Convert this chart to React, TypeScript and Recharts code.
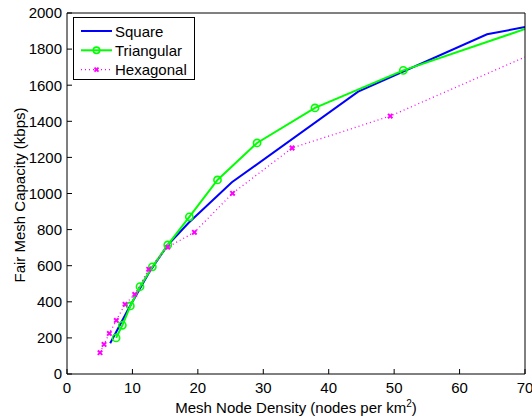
import React from 'react';
import { LineChart, Line, XAxis, YAxis } from 'recharts';

const squareX = [6.6, 9.4, 12.5, 15.4, 18.6, 25.2, 44.5, 64.2, 70];
const squareY = [170, 362, 560, 715, 838, 1062, 1564, 1882, 1922];

const triX = [7.5, 8.46, 9.68, 11.16, 13.05, 15.4, 18.7, 23.0, 29.05, 37.9, 51.4, 70];
const triY = [200, 270, 377, 484, 594, 715, 871, 1075, 1280, 1474, 1682, 1911];

const hexX = [5.05, 5.66, 6.47, 7.54, 8.87, 10.35, 12.49, 15.4, 19.47, 25.3, 34.4, 49.4, 70];
const hexY = [118, 164, 225, 297, 386, 441, 580, 703, 785, 1001, 1252, 1429, 1756];

const xTicks = [0, 10, 20, 30, 40, 50, 60, 70];
const yTicks = [0, 200, 400, 600, 800, 1000, 1200, 1400, 1600, 1800, 2000];

const seriesNames = ['Square', 'Triangular', 'Hexagonal'];
const colors = { square: '#0000ff', tri: '#00ff00', hex: '#ff00ff' };

const sq = squareX.map((x, i) => ({ x, y: squareY[i] }));
const tri = triX.map((x, i) => ({ x, y: triY[i] }));
const hex = hexX.map((x, i) => ({ x, y: hexY[i] }));

const FONT = '"Liberation Sans", Arial, Helvetica, sans-serif';

const CircleDot = (props: any) => {
  const { cx, cy, index } = props;
  if (index === tri.length - 1 || cx == null) return <g key={`c${index}`} />;
  return <circle key={`c${index}`} cx={cx} cy={cy} r={3.6} fill="none" stroke={colors.tri} strokeWidth={1.6} />;
};

const XDot = (props: any) => {
  const { cx, cy, index } = props;
  if (index === hex.length - 1 || cx == null) return <g key={`x${index}`} />;
  const s = 2.2;
  return (
    <g key={`x${index}`}>
      <line x1={cx - s} y1={cy - s} x2={cx + s} y2={cy + s} stroke={colors.hex} strokeWidth={2} />
      <line x1={cx - s} y1={cy + s} x2={cx + s} y2={cy - s} stroke={colors.hex} strokeWidth={2} />
    </g>
  );
};

const tickStyle = { fontSize: 15, fill: '#000', fontFamily: FONT };

export default function App() {
  return (
    <div style={{ position: 'absolute', left: 0, top: 0, width: 532, height: 418, background: '#fff', fontFamily: FONT }}>
      <LineChart width={532} height={418} margin={{ top: 0, right: 0, bottom: 0, left: 0 }}>
        <XAxis
          xAxisId="b"
          type="number"
          dataKey="x"
          domain={[0, 70]}
          ticks={xTicks}
          allowDataOverflow
          height={44}
          tickSize={-5}
          tickMargin={13}
          tick={tickStyle}
          stroke="#000"
          tickLine={{ stroke: '#000' }}
          axisLine={{ stroke: '#000' }}
          interval={0}
          label={() => (
            <text x={296} y={413} textAnchor="middle" fontSize={15} fontFamily={FONT} fill="#000">
              Mesh Node Density (nodes per km
              <tspan fontSize={10} dy={-6}>2</tspan>
              <tspan dy={6}>)</tspan>
            </text>
          )}
        />
        <XAxis
          xAxisId="t"
          orientation="top"
          type="number"
          domain={[0, 70]}
          ticks={xTicks}
          allowDataOverflow
          height={13}
          tickSize={-5}
          tick={false}
          stroke="#000"
          interval={0}
        />
        <YAxis
          yAxisId="l"
          type="number"
          domain={[0, 2000]}
          ticks={yTicks}
          allowDataOverflow
          width={67}
          tickSize={-5}
          tickMargin={10}
          tick={tickStyle}
          stroke="#000"
          interval={0}
          label={() => (
            <text transform="translate(25,195) rotate(-90)" textAnchor="middle" fontSize={15} fontFamily={FONT} fill="#000">
              Fair Mesh Capacity (kbps)
            </text>
          )}
        />
        <YAxis
          yAxisId="r"
          orientation="right"
          type="number"
          domain={[0, 2000]}
          ticks={yTicks}
          allowDataOverflow
          width={7}
          tickSize={-5}
          tick={false}
          stroke="#000"
          interval={0}
        />
        <Line
          data={sq}
          dataKey="y"
          xAxisId="b"
          yAxisId="l"
          type="linear"
          stroke={colors.square}
          strokeWidth={2}
          dot={false}
          isAnimationActive={false}
        />
        <Line
          data={tri}
          dataKey="y"
          xAxisId="b"
          yAxisId="l"
          type="linear"
          stroke={colors.tri}
          strokeWidth={2}
          dot={CircleDot}
          isAnimationActive={false}
        />
        <Line
          data={hex}
          dataKey="y"
          xAxisId="b"
          yAxisId="l"
          type="linear"
          stroke={colors.hex}
          strokeWidth={1.3}
          strokeDasharray="1 3"
          dot={XDot}
          isAnimationActive={false}
        />
      </LineChart>
      <div
        style={{
          position: 'absolute',
          left: 73,
          top: 17,
          width: 120,
          height: 61,
          border: '1px solid #000',
          background: '#fff',
          boxSizing: 'content-box',
        }}
      >
        <svg width={120} height={61} style={{ position: 'absolute', left: 0, top: 0 }}>
          {seriesNames.map((name, i) => {
            const y = 13 + i * 19.3;
            return (
              <g key={name}>
                {i === 0 && <line x1={7} x2={38} y1={y} y2={y} stroke={colors.square} strokeWidth={2} />}
                {i === 1 && (
                  <g>
                    <line x1={7} x2={38} y1={y} y2={y} stroke={colors.tri} strokeWidth={2} />
                    <circle cx={22.5} cy={y} r={3.2} fill="none" stroke={colors.tri} strokeWidth={1.6} />
                  </g>
                )}
                {i === 2 && (
                  <g>
                    <line x1={7} x2={38} y1={y} y2={y} stroke={colors.hex} strokeWidth={1.3} strokeDasharray="1 3" />
                    <line x1={20.5} y1={y - 2} x2={24.5} y2={y + 2} stroke={colors.hex} strokeWidth={2} />
                    <line x1={20.5} y1={y + 2} x2={24.5} y2={y - 2} stroke={colors.hex} strokeWidth={2} />
                  </g>
                )}
                <text x={41} y={y + 5.5} fontSize={15} fontFamily={FONT} fill="#000">
                  {name}
                </text>
              </g>
            );
          })}
        </svg>
      </div>
    </div>
  );
}
